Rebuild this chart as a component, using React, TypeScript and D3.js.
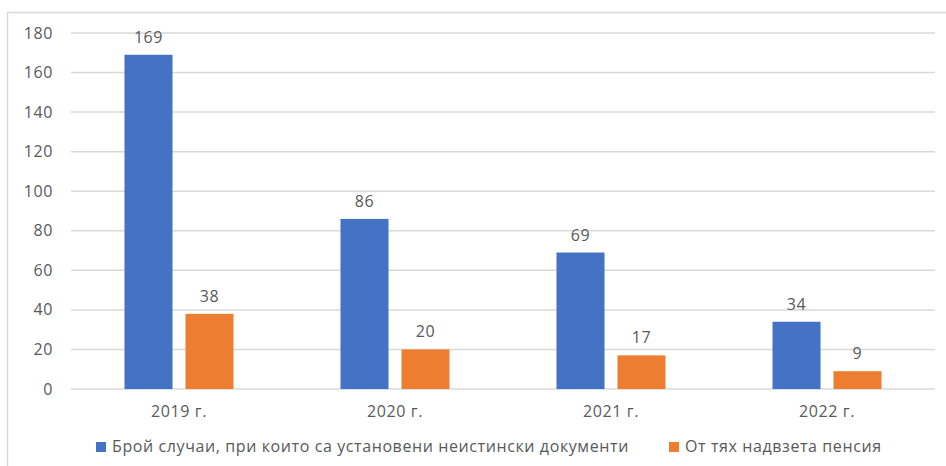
import { FC } from 'react'
import * as d3 from 'd3'

const years = ['2019 г.', '2020 г.', '2021 г.', '2022 г.']
const seriesNames = [
  'Брой случаи, при които са установени неистински документи',
  'От тях надвзета пенсия',
]
const fakeDocs = [169, 86, 69, 34]
const pensions = [38, 20, 17, 9]
const yTicks = [0, 20, 40, 60, 80, 100, 120, 140, 160, 180]

const colors = ['#4472C4', '#ED7D31']
const textColor = '#595959'
const gridColor = '#D9D9D9'
const font = '"Open Sans", "DejaVu Sans", sans-serif'

const App: FC = () => {
  const width = 946
  const height = 466
  const series = [fakeDocs, pensions]

  const x = d3.scaleBand<string>().domain(years).range([71, 935]).padding(0)
  const xInner = d3.scaleBand<number>()
    .domain([0, 1])
    .range([0, x.bandwidth()])
    .paddingInner(0.213)
    .paddingOuter(0.877)
  const y = d3.scaleLinear().domain([0, 180]).range([389, 33])

  const legendX = [96, 669]

  return (
    <div style={{ position: 'absolute', left: 0, top: 0 }}>
      <svg width={width} height={height} style={{ display: 'block', fontFamily: font, letterSpacing: '0.6px' }}>
        <rect x={0} y={0} width={width} height={height} fill="#fff" />
        <rect x={7.5} y={12.5} width={960} height={480} fill="none" stroke={gridColor} strokeWidth={1.5} />

        {yTicks.map(t => (
          <g key={t}>
            <line x1={71} x2={935} y1={y(t)} y2={y(t)} stroke={gridColor} strokeWidth={1.5} />
            <text x={53} y={y(t)} dy="0.35em" textAnchor="end" fontSize={16} fill={textColor}>{t}</text>
          </g>
        ))}

        {series.map((vals, si) =>
          vals.map((v, i) => {
            const bx = (x(years[i]) || 0) + (xInner(si) || 0)
            return (
              <g key={`${si}-${i}`}>
                <rect x={bx} y={y(v)} width={xInner.bandwidth()} height={y(0) - y(v)} fill={colors[si]} />
                <text x={bx + xInner.bandwidth() / 2} y={y(v) - 12} textAnchor="middle" fontSize={16} fill={textColor}>{v}</text>
              </g>
            )
          })
        )}

        {years.map(yr => (
          <text key={yr} x={(x(yr) || 0) + x.bandwidth() / 2} y={417} textAnchor="middle" fontSize={16} fill={textColor}>{yr}</text>
        ))}

        {seriesNames.map((name, si) => (
          <g key={name}>
            <rect x={legendX[si]} y={442} width={10} height={10} fill={colors[si]} />
            <text x={legendX[si] + 16} y={452} fontSize={16} fill={textColor}>{name}</text>
          </g>
        ))}
      </svg>
    </div>
  )
}

export default App
